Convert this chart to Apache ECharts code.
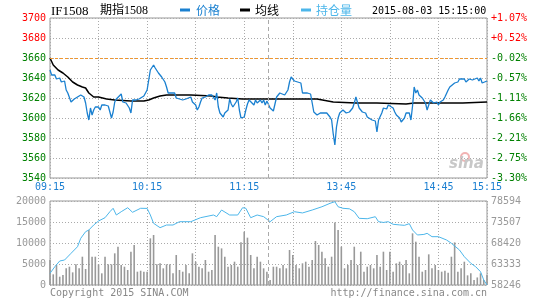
<!DOCTYPE html>
<html><head><meta charset="utf-8">
<script src="https://cdn.jsdelivr.net/npm/echarts@6/dist/echarts.min.js"></script>
<style>html,body{margin:0;padding:0;background:#fff}#c{width:540px;height:300px}</style>
</head><body><div id="c"></div>
<script>
// ---- data (minutes since 09:15, trading minutes; 135 = 11:30/13:00) ----
const xTickLabels = ['09:15','','10:15','','11:15','','13:45','','14:45','15:15'];
const pctLabels = ['-3.30%','-2.75%','-2.21%','-1.66%','-1.11%','-0.57%','-0.02%','+0.52%','+1.07%'];
const oiTickLabels = ['58246','63333','68420','73507','78594'];

const priceMin = [0,1,3,4,6,7,9,10,11,13,14,15,17,18,19,20,21,22,23,24,25,26,27,28,30,31,32,34,36,37,38,39,40,41,42,44,45,46,47,48,49,50,51,52,53,55,56,58,59,60,61,62,64,65,67,69,71,72,73,75,77,78,80,81,82,84,85,87,88,89,90,91,92,93,94,95,96,98,100,101,102,103,104,105,107,108,110,111,112,113,114,115,116,117,118,120,121,122,123,124,126,127,128,130,131,132,133,134,135,136,137,138,139,140,142,143,145,146,147,148,149,150,151,152,153,154,155,156,157,159,160,161,162,163,164,165,167,169,170,171,173,174,175,176,177,178,179,180,181,182,183,185,186,187,188,189,190,191,192,193,195,196,197,199,201,202,203,204,205,206,208,209,210,212,213,214,216,217,218,219,220,222,223,224,225,226,227,228,229,230,231,232,233,234,235,236,237,239,240,241,242,243,244,245,246,247,248,250,251,252,253,254,256,257,258,259,261,262,264,265,266,267,268,270];
const priceVal = [3648,3643,3643,3639,3640,3636,3637,3628,3625,3616,3618,3619,3621,3620,3623,3625,3621,3615,3605,3598,3610,3603,3608,3611,3611,3608,3613,3613,3612,3606,3600,3606,3616,3619,3621,3624,3616,3618,3615,3615,3610,3605,3618,3616,3618,3619,3620,3622,3623,3628,3638,3648,3653,3650,3645,3641,3636,3631,3625,3625,3625,3620,3619,3620,3618,3619,3619,3621,3616,3615,3613,3608,3611,3616,3620,3622,3621,3623,3623,3623,3618,3625,3611,3605,3601,3605,3608,3619,3614,3611,3612,3616,3620,3608,3600,3601,3608,3614,3618,3616,3613,3618,3615,3618,3615,3618,3613,3617,3616,3610,3609,3607,3614,3621,3625,3624,3623,3624,3628,3636,3641,3640,3637,3635,3636,3635,3635,3625,3626,3625,3625,3624,3615,3606,3606,3603,3605,3605,3603,3605,3601,3598,3584,3573,3591,3600,3605,3603,3608,3606,3605,3606,3606,3610,3615,3621,3619,3610,3608,3606,3605,3601,3600,3598,3597,3586,3598,3600,3605,3610,3609,3613,3615,3610,3606,3603,3600,3596,3594,3600,3605,3605,3598,3612,3631,3625,3628,3623,3625,3620,3618,3615,3608,3613,3618,3620,3615,3616,3613,3616,3615,3618,3621,3622,3628,3631,3633,3635,3635,3636,3639,3637,3639,3636,3635,3639,3638,3639,3640,3637,3640,3635,3637,3637];

const avgMin = [0,2,5,8,11,14,17,20,22,24,27,30,35,40,50,58,61,64,68,72,87,100,103,110,119,134,140,152,165,175,189,202,220,225,255,270];
const avgVal = [3660,3653,3648,3645,3641,3636,3633,3631,3630,3625,3621,3621,3619,3618,3617,3617,3618,3620,3622,3623,3623,3622,3621,3620,3619,3619,3619,3619,3619,3616,3615,3615,3614,3615,3615,3616];

// volume bars, one per 2 trading minutes (09:15 ... 15:15)
const volVal = [5950,2540,4760,1980,2380,3970,4360,3010,4920,3970,6740,3810,13090,6740,6740,4920,2780,6740,4920,4920,7540,9120,4760,4360,3570,7930,9520,3170,3400,3170,3170,11110,11900,4920,5160,3970,4920,4920,2780,7140,3570,
3170,4760,2780,7540,5550,4360,3970,5950,3170,3570,11900,9120,8720,6740,4360,4760,5550,4360,10150,12690,11270,7140,3970,6740,5550,3970,3170,1190,4360,4360,3970,4760,3970,8330,7140,4760,3970,5160,5550,4360,5950,10470,9520,7930,6350,4360,6740,14910,13090,9120,3970,4760,5950,9120,4760,
7930,3170,4360,4760,3970,7140,4360,7930,3570,7930,3170,5160,5550,4760,5950,2780,12300,10310,6740,3170,3570,7300,3970,4760,3570,3170,3370,2900,6740,10150,3170,3970,5550,2300,2780,1190,1800,2780,1190,2400];
const volStep = 2;

const oiMin = [0,3,6,9,13,17,19,22,24,27,30,34,37,39,41,44,48,51,56,60,62,64,68,72,76,80,87,93,101,103,106,111,116,119,121,124,128,132,136,140,146,151,156,162,168,173,176,178,181,185,188,191,196,201,203,206,209,212,216,219,222,224,227,231,233,236,240,245,248,253,256,260,263,266,268,270];
const oiVal = [61080,62680,64060,64300,65920,67520,69560,71160,71570,72780,73750,74550,76000,76830,75200,76000,76970,75860,76830,76800,75200,73190,72130,72780,72780,73580,73580,74550,75200,74800,76410,75200,75200,76970,76830,74550,75200,74800,73580,74800,75200,76000,75700,76410,77200,78030,78430,77200,76830,76700,76000,74400,74300,74790,73580,73400,73580,72950,72800,72700,73100,71570,70360,70500,70760,69950,69950,69150,68350,66720,65100,63500,62680,61470,59460,58246];

const refPrice = 3660;
const lunchBreak = 135;

// ---- build ----
const pricePts = priceMin.map((m,i)=>[m, priceVal[i]]);
const avgPts = avgMin.map((m,i)=>[m, avgVal[i]]);
const volPts = volVal.map((v,i)=>[i*volStep, v]);
const oiPts = oiMin.map((m,i)=>[m, oiVal[i]]);

const MONO = 'DejaVu Sans Mono';
const gridLine = {show:true, lineStyle:{color:'#aaa', type:[1,2], width:1}};
const xBase = {type:'value', min:0, max:270, interval:30, axisLine:{show:false}, axisTick:{show:false}, splitLine:gridLine};

const chart = echarts.init(document.getElementById('c'), null, {renderer:'canvas'});
chart.setOption({
  animation:false,
  backgroundColor:'#fff',
  grid:[
    {left:50, top:18, width:437, height:160, show:true, borderColor:'#999', borderWidth:1},
    {left:50, top:201, width:437, height:84, show:true, borderColor:'#999', borderWidth:1}
  ],
  xAxis:[
    Object.assign({}, xBase, {gridIndex:0, axisLabel:{show:true, margin:4, color:'#1b7fd1', fontFamily:MONO, fontSize:10,
      formatter:(v)=>xTickLabels[Math.round(v/30)] || ''}}),
    Object.assign({}, xBase, {gridIndex:1, axisLabel:{show:false}})
  ],
  yAxis:[
    {type:'value', gridIndex:0, min:3540, max:3700, interval:20, position:'left',
      axisLine:{show:false}, axisTick:{show:false}, splitLine:gridLine,
      axisLabel:{margin:4, fontFamily:MONO, fontSize:10, formatter:(v)=>String(v),
        color:(v)=> (v>refPrice ? '#ff0000' : '#008000')}},
    {type:'value', gridIndex:0, min:3540, max:3700, interval:20, position:'right',
      axisLine:{show:false}, axisTick:{show:false}, splitLine:{show:false},
      axisLabel:{margin:4, fontFamily:MONO, fontSize:10,
        formatter:(v)=>pctLabels[Math.round((v-3540)/20)],
        color:(v)=> (v>refPrice ? '#ff0000' : '#008000')}},
    {type:'value', gridIndex:1, min:0, max:20000, interval:5000, position:'left',
      axisLine:{show:false}, axisTick:{show:false}, splitLine:gridLine,
      axisLabel:{margin:4, fontFamily:MONO, fontSize:10, color:'#999', formatter:(v)=>String(v)}},
    {type:'value', gridIndex:1, min:58246, max:78594, interval:5087, position:'right',
      axisLine:{show:false}, axisTick:{show:false}, splitLine:{show:false},
      axisLabel:{margin:4, fontFamily:MONO, fontSize:10, color:'#999',
        formatter:(v)=>oiTickLabels[Math.round((v-58246)/5087)]}}
  ],
  series:[
    {name:'成交量', type:'bar', xAxisIndex:1, yAxisIndex:2, data:volPts, barWidth:1.6,
      itemStyle:{color:'#999'}, silent:true,
      markLine:{silent:true, symbol:'none', label:{show:false}, lineStyle:{color:'#aaa', type:[4,3], width:1},
        data:[{xAxis:lunchBreak}]}},
    {name:'持仓量', type:'line', xAxisIndex:1, yAxisIndex:3, data:oiPts, showSymbol:false,
      lineStyle:{color:'#4cb6ea', width:1}, silent:true},
    {name:'均线', type:'line', xAxisIndex:0, yAxisIndex:0, data:avgPts, showSymbol:false,
      lineStyle:{color:'#000', width:1.5}, silent:true},
    {name:'价格', type:'line', xAxisIndex:0, yAxisIndex:0, data:pricePts, showSymbol:false,
      lineStyle:{color:'#1a80d0', width:1.3}, silent:true,
      markLine:{silent:true, symbol:'none', label:{show:false},
        data:[
          {yAxis:refPrice, lineStyle:{color:'#f0962e', type:[3,2], width:1}},
          {xAxis:lunchBreak, lineStyle:{color:'#aaa', type:[4,3], width:1}}
        ]}}
  ],
  graphic:[
    {type:'text', left:51, top:5, style:{text:'IF1508', font:'13px "Liberation Serif"', fill:'#000'}},
    {type:'text', left:100, top:5, style:{text:'期指1508', font:'12px "Liberation Serif", "Noto Sans CJK SC"', fill:'#000'}},
    {type:'rect', shape:{x:180, y:8.5, width:10, height:3}, style:{fill:'#1a80d0'}},
    {type:'text', left:196, top:4, style:{text:'价格', font:'12px "Noto Sans CJK SC"', fill:'#1a80d0'}},
    {type:'rect', shape:{x:240, y:8.5, width:10, height:3}, style:{fill:'#000'}},
    {type:'text', left:255, top:4, style:{text:'均线', font:'12px "Noto Sans CJK SC"', fill:'#000'}},
    {type:'rect', shape:{x:301, y:8.5, width:10, height:3}, style:{fill:'#4cb6ea'}},
    {type:'text', left:316, top:4, style:{text:'持仓量', font:'12px "Noto Sans CJK SC"', fill:'#4cb6ea'}},
    {type:'text', left:372, top:6, style:{text:'2015-08-03 15:15:00', font:'10px "DejaVu Sans Mono"', fill:'#000'}},
    {type:'text', left:50, top:288, style:{text:'Copyright 2015 SINA.COM', font:'10px "DejaVu Sans Mono"', fill:'#888'}},
    {type:'text', right:53, top:288, style:{text:'http://finance.sina.com.cn', font:'10px "DejaVu Sans Mono"', fill:'#888'}},
    {type:'circle', shape:{cx:465, cy:157, r:4}, style:{fill:'none', stroke:'#f2b3b3', lineWidth:2}},
    {type:'text', left:449, top:157, style:{text:'sina', font:'italic bold 15px "DejaVu Sans"', fill:'#c8c8c8'}}
  ]
});
</script></body></html>
